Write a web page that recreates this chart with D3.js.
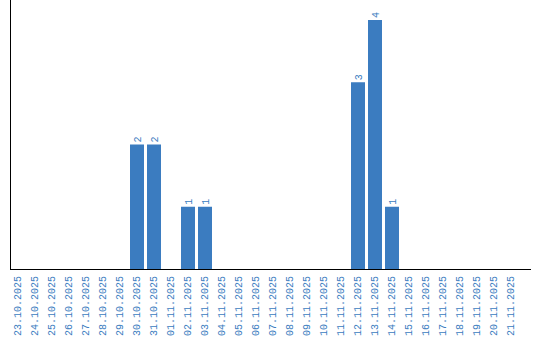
<!DOCTYPE html>
<meta charset="utf-8">
<style>
    body { margin: 0; background: #fff; }
</style>
<svg width="540" height="340"></svg>
<script src="https://d3js.org/d3.v7.min.js"></script>
<script>

    // data
    var dates = ["23.10.2025","24.10.2025","25.10.2025","26.10.2025","27.10.2025","28.10.2025",
        "29.10.2025","30.10.2025","31.10.2025","01.11.2025","02.11.2025","03.11.2025",
        "04.11.2025","05.11.2025","06.11.2025","07.11.2025","08.11.2025","09.11.2025",
        "10.11.2025","11.11.2025","12.11.2025","13.11.2025","14.11.2025","15.11.2025",
        "16.11.2025","17.11.2025","18.11.2025","19.11.2025","20.11.2025","21.11.2025"];
    var counts = [0,0,0,0,0,0,0,2,2,0,1,1,0,0,0,0,0,0,0,0,3,4,1,0,0,0,0,0,0,0];

    var svg = d3.select("svg"),
        blue = "#3b7cc0",
        font = "'Liberation Mono', 'DejaVu Sans Mono', monospace",
        left = 11, top = 10, bottom = 269, right = 531, step = 17;

    // bars 14px wide on a 17px step
    var x = d3.scaleBand()
        .domain(dates)
        .range([left, left + step * dates.length - 3])
        .paddingInner(3 / step)
        .paddingOuter(0);

    var y = d3.scaleLinear()
        .domain([0, 4])
        .range([bottom, 20]);

    var data = dates.map(function(d, i) { return {date: d, n: counts[i]}; });
    var nonZero = data.filter(function(d) { return d.n > 0; });

    svg.append("g").selectAll("rect")
        .data(nonZero)
        .enter().append("rect")
        .attr("x", function(d) { return x(d.date); })
        .attr("y", function(d) { return y(d.n); })
        .attr("width", x.bandwidth())
        .attr("height", function(d) { return y(0) - y(d.n); })
        .attr("fill", blue);

    // value labels
    svg.append("g").selectAll("text")
        .data(nonZero)
        .enter().append("text")
        .attr("transform", function(d) {
            return "translate(" + (x(d.date) + x.bandwidth() / 2 + 4) + "," + (y(d.n) - 2) + ") rotate(-90)";
        })
        .attr("font-family", font)
        .attr("font-size", 10)
        .attr("fill", blue)
        .text(function(d) { return d.n; });

    // x tick labels
    var xAxis = svg.append("g")
        .attr("transform", "translate(0," + bottom + ")")
        .call(d3.axisBottom(x).tickSize(0).tickPadding(0));
    xAxis.select(".domain").remove();
    xAxis.selectAll("text")
        .attr("font-size", 10)
        .attr("font-family", font)
        .attr("fill", blue)
        .attr("text-anchor", "end")
        .attr("dy", null)
        .attr("y", 0)
        .attr("transform", "translate(2.5,7) rotate(-90)");

    svg.append("line")
        .attr("x1", left - 1).attr("x2", right)
        .attr("y1", bottom + 0.5).attr("y2", bottom + 0.5)
        .attr("stroke", "#000").attr("stroke-width", 1);
    svg.append("line")
        .attr("x1", left - 0.5).attr("x2", left - 0.5)
        .attr("y1", top).attr("y2", bottom)
        .attr("stroke", "#000").attr("stroke-width", 1);

</script>
